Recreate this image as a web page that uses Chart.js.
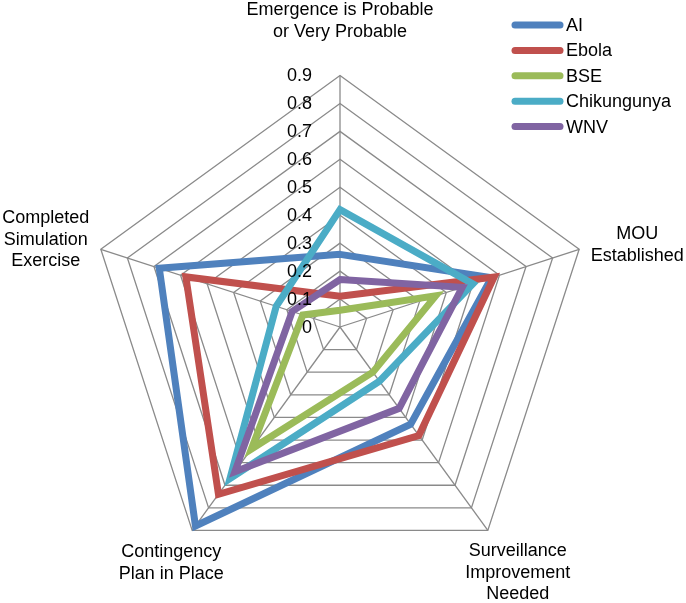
<!DOCTYPE html>
<html>
<head>
<meta charset="utf-8">
<script src="https://cdn.jsdelivr.net/npm/chart.js@4/dist/chart.umd.min.js"></script>
<style>
  html, body { margin: 0; padding: 0; background: #fff; }
  #wrap { width: 686px; height: 603px; position: relative; }
</style>
</head>
<body>
<div id="wrap"><canvas id="radarChart"></canvas></div>
<script>
const categories = [
  ['Emergence is Probable', 'or Very Probable'],
  ['MOU', 'Established'],
  ['Surveillance', 'Improvement', 'Needed'],
  ['Contingency', 'Plan in Place'],
  ['Completed', 'Simulation', 'Exercise']
];
const seriesNames = ['AI', 'Ebola', 'BSE', 'Chikungunya', 'WNV'];
const aiValues = [0.26, 0.57, 0.43, 0.88, 0.68];
const ebolaValues = [0.11, 0.58, 0.48, 0.74, 0.58];
const bseValues = [0.06, 0.36, 0.20, 0.54, 0.14];
const chikValues = [0.42, 0.50, 0.24, 0.67, 0.24];
const wnvValues = [0.17, 0.46, 0.36, 0.64, 0.18];
const tickLabels = ['0', '0.1', '0.2', '0.3', '0.4', '0.5', '0.6', '0.7', '0.8', '0.9'];

const colors = ['#4F81BD', '#C0504D', '#9BBB59', '#4BACC6', '#8064A2'];
const FONT = '18px "Liberation Sans", Arial, sans-serif';

// label block offsets from each outer vertex (layout only)
const labelOffsets = [[0, -65], [58, -15], [30, 21], [-21, 22], [-55, -31]];
const LINE_H = 21.5;

const textPlugin = {
  id: 'textPlugin',
  afterDatasetsDraw(chart) {
    const r = chart.scales.r;
    const ctx = chart.ctx;
    ctx.save();
    ctx.font = FONT;
    ctx.fillStyle = '#000';
    ctx.textBaseline = 'middle';

    // tick labels, left of the top axis
    ctx.textAlign = 'right';
    r.ticks.forEach((tick, i) => {
      const y = r.yCenter - r.getDistanceFromCenterForValue(tick.value);
      ctx.fillText(tickLabels[i], r.xCenter - 28, y + 1);
    });

    // axis labels
    ctx.textAlign = 'center';
    categories.forEach((lines, i) => {
      const p = r.getPointPosition(i, r.drawingArea);
      const x = p.x + labelOffsets[i][0];
      const y0 = p.y + labelOffsets[i][1];
      lines.forEach((line, j) => ctx.fillText(line, x, y0 + j * LINE_H));
    });

    // legend
    ctx.textAlign = 'left';
    ctx.lineCap = 'round';
    ctx.lineWidth = 7;
    chart.data.datasets.forEach((ds, i) => {
      const y = 25 + i * 25.4;
      ctx.strokeStyle = ds.borderColor;
      ctx.beginPath();
      ctx.moveTo(515, y);
      ctx.lineTo(560, y);
      ctx.stroke();
      ctx.fillText(ds.label, 566, y + 1);
    });
    ctx.restore();
  }
};

const allValues = [aiValues, ebolaValues, bseValues, chikValues, wnvValues];

const ctx = document.getElementById('radarChart').getContext('2d');
new Chart(ctx, {
  type: 'radar',
  data: {
    labels: categories,
    datasets: seriesNames.map((name, i) => ({
      label: name,
      data: allValues[i],
      borderColor: colors[i],
      backgroundColor: colors[i],
      borderWidth: 7,
      fill: false,
      pointRadius: 0,
      pointHoverRadius: 0,
      order: seriesNames.length - i
    }))
  },
  options: {
    responsive: true,
    maintainAspectRatio: false,
    animation: false,
    plugins: {
      legend: { display: false },
      tooltip: { enabled: false }
    },
    scales: {
      r: {
        min: 0,
        max: 0.9,
        beginAtZero: true,
        ticks: { display: false, stepSize: 0.1 },
        pointLabels: { display: false },
        grid: { color: '#8a8a8a', lineWidth: 1.3 },
        angleLines: { color: '#8a8a8a', lineWidth: 1.3 },
        afterFit: function(scale) {
          scale.xCenter = 340;
          scale.yCenter = 327;
          scale.drawingArea = 251.5;
        }
      }
    }
  },
  plugins: [textPlugin]
});
</script>
</body>
</html>
